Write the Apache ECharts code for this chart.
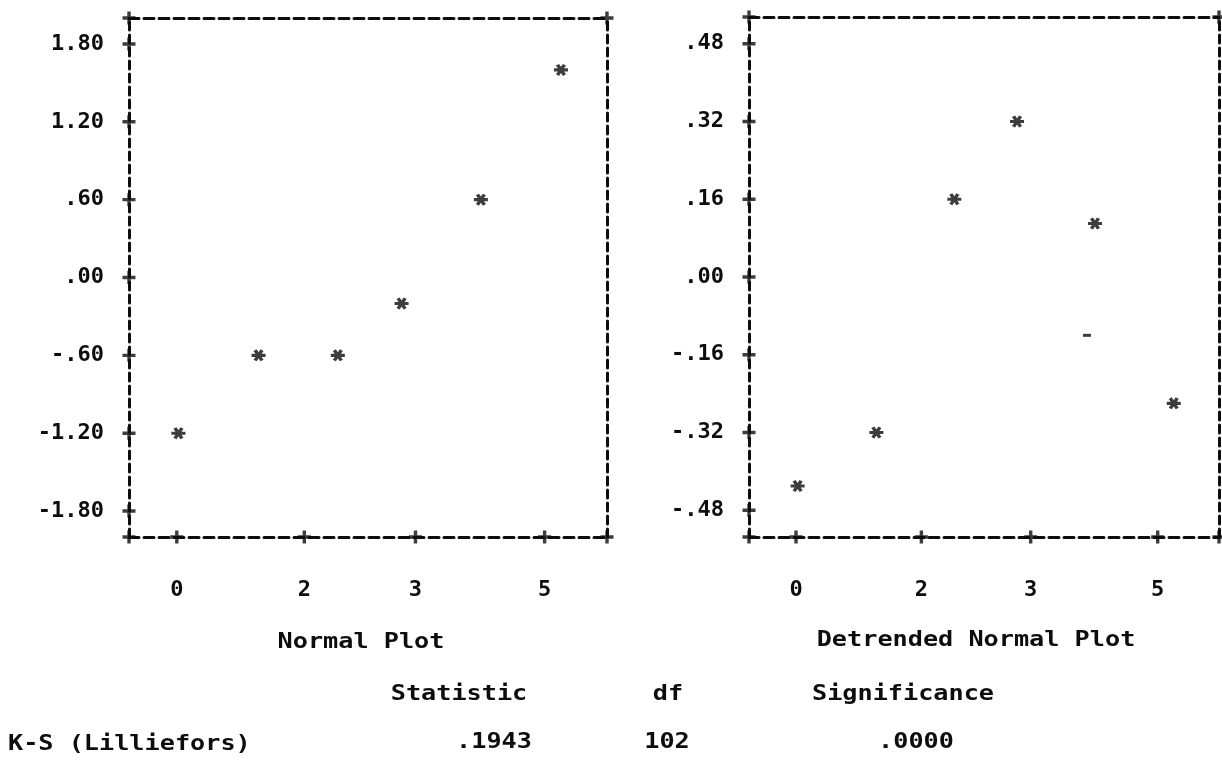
<!DOCTYPE html>
<html>
<head>
<meta charset="utf-8">
<script src="https://cdn.jsdelivr.net/npm/echarts@6/dist/echarts.min.js"></script>
<style>
html,body{margin:0;padding:0;background:#fff;}
#chart{width:1222px;height:761px;}
</style>
</head>
<body>
<div id="chart"></div>
<script>
// ---- data ----
const xTickValues = [0.40, 1.96, 3.32, 4.90];
const xTickLabels = ['0', '2', '3', '5'];
const xRange = [-0.185, 5.663];

const normalYTicks = [1.8, 1.2, 0.6, 0, -0.6, -1.2, -1.8];
const normalYLabels = ['1.80', '1.20', '.60', '.00', '-.60', '-1.20', '-1.80'];
const normalYRange = [-2.0, 2.0];

const detrYTicks = [0.48, 0.32, 0.16, 0, -0.16, -0.32, -0.48];
const detrYLabels = ['.48', '.32', '.16', '.00', '-.16', '-.32', '-.48'];
const detrYRange = [-0.535, 0.535];

const observed = [0.42, 1.40, 2.37, 3.15, 4.12, 5.10];
const expectedNormal = [-1.20, -0.60, -0.60, -0.20, 0.60, 1.60];
const detrendedDev = [-0.43, -0.32, 0.16, 0.32, 0.11, -0.26];
const strayX = [4.02];
const strayY = [-0.12];

const plotTitles = ['Normal Plot', 'Detrended Normal Plot'];
const tableHeader = ['Statistic', 'df', 'Significance'];
const tableRowName = 'K-S (Lilliefors)';
const tableRowValues = ['.1943', '102', '.0000'];

// ---- styling ----
const INK = '#0d0d0d';
const FONT = 'DejaVu Sans Mono';

// six-armed asterisk outline (single non-self-overlapping polygon)
function asteriskPath(R, w) {
  const pts = [];
  for (let k = 0; k < 6; k++) {
    const t = (60 * k) * Math.PI / 180;
    const dx = Math.cos(t), dy = Math.sin(t);
    const px = -dy, py = dx;
    pts.push([R * dx - w / 2 * px, R * dy - w / 2 * py]);
    pts.push([R * dx + w / 2 * px, R * dy + w / 2 * py]);
    const ti = t + Math.PI / 6;
    pts.push([w * Math.cos(ti), w * Math.sin(ti)]);
  }
  return 'path://' + pts.map((p, i) => (i ? 'L' : 'M') +
    (p[0] + R).toFixed(3) + ',' + (p[1] + R).toFixed(3)).join('') + 'Z';
}
const STAR = asteriskPath(6.5, 3.3);
const PLUS = 'path://M4.8,0h3.4v4.8h4.8v3.4h-4.8v4.8h-3.4v-4.8h-4.8v-3.4h4.8z';

function labelFor(values, labels) {
  return function (v) {
    for (let i = 0; i < values.length; i++) {
      if (Math.abs(values[i] - v) < 1e-6) return labels[i];
    }
    return '';
  };
}

function pairs(xs, ys) { return xs.map((x, i) => [x, ys[i]]); }

function crosses(yTicks, yRange) {
  const pts = [];
  const xs = [xRange[0]].concat(xTickValues, [xRange[1]]);
  xs.forEach(x => pts.push([x, yRange[0]]));
  pts.push([xRange[0], yRange[1]]);
  pts.push([xRange[1], yRange[1]]);
  yTicks.forEach(y => pts.push([xRange[0], y]));
  return pts;
}

const hDash = { color: INK, width: 3, type: [10, 5] };
const vDash = { color: INK, width: 3, type: [8, 5] };
const axisFont = { color: INK, fontFamily: FONT, fontWeight: 'bold', fontSize: 22 };

function xAxes(grid) {
  return [
    { gridIndex: grid, type: 'value', position: 'bottom', min: xRange[0], max: xRange[1],
      axisLine: { show: true, onZero: false, lineStyle: hDash },
      axisTick: { show: false }, splitLine: { show: false },
      axisLabel: Object.assign({ show: true, margin: 42, customValues: xTickValues,
        formatter: labelFor(xTickValues, xTickLabels) }, axisFont) },
    { gridIndex: grid, type: 'value', position: 'top', min: xRange[0], max: xRange[1],
      axisLine: { show: true, onZero: false, lineStyle: hDash },
      axisTick: { show: false }, splitLine: { show: false }, axisLabel: { show: false } }
  ];
}
function yAxes(grid, ticks, labels, range) {
  return [
    { gridIndex: grid, type: 'value', position: 'left', min: range[0], max: range[1],
      axisLine: { show: true, onZero: false, lineStyle: vDash },
      axisTick: { show: false }, splitLine: { show: false },
      axisLabel: Object.assign({ show: true, margin: 25, customValues: ticks,
        formatter: labelFor(ticks, labels) }, axisFont) },
    { gridIndex: grid, type: 'value', position: 'right', min: range[0], max: range[1],
      axisLine: { show: true, onZero: false, lineStyle: vDash },
      axisTick: { show: false }, splitLine: { show: false }, axisLabel: { show: false } }
  ];
}

function txt(text, x, y, align) {
  return { type: 'text', x: x, y: y, scaleX: 1.2, silent: true,
    style: { text: text, fill: INK, font: 'bold 21px "' + FONT + '"',
      textAlign: align || 'center', textVerticalAlign: 'middle' } };
}

const chart = echarts.init(document.getElementById('chart'), null, { renderer: 'canvas' });
chart.setOption({
  backgroundColor: '#fff',
  animation: false,
  grid: [
    { left: 129, top: 18, width: 478, height: 519, outerBoundsMode: 'none' },
    { left: 749, top: 17, width: 470, height: 520, outerBoundsMode: 'none' }
  ],
  xAxis: xAxes(0).concat(xAxes(1)),
  yAxis: yAxes(0, normalYTicks, normalYLabels, normalYRange)
    .concat(yAxes(1, detrYTicks, detrYLabels, detrYRange)),
  series: [
    { name: 'Normal Plot', type: 'scatter', xAxisIndex: 0, yAxisIndex: 0,
      data: pairs(observed, expectedNormal), symbol: STAR, symbolSize: [14, 12],
      itemStyle: { color: INK } },
    { name: 'Detrended Normal Plot', type: 'scatter', xAxisIndex: 2, yAxisIndex: 2,
      data: pairs(observed, detrendedDev), symbol: STAR, symbolSize: [14, 12],
      itemStyle: { color: INK } },
    { name: 'stray mark', type: 'scatter', xAxisIndex: 2, yAxisIndex: 2,
      data: pairs(strayX, strayY), symbol: 'rect', symbolSize: [8, 3],
      itemStyle: { color: INK } },
    { name: 'border crosses left', type: 'scatter', xAxisIndex: 0, yAxisIndex: 0, clip: false,
      data: crosses(normalYTicks, normalYRange), symbol: PLUS, symbolSize: 13,
      itemStyle: { color: INK }, silent: true },
    { name: 'border crosses right', type: 'scatter', xAxisIndex: 2, yAxisIndex: 2, clip: false,
      data: crosses(detrYTicks, detrYRange), symbol: PLUS, symbolSize: 13,
      itemStyle: { color: INK }, silent: true }
  ],
  graphic: [
    txt(plotTitles[0], 361, 643),
    txt(plotTitles[1], 976, 641),
    txt(tableHeader[0], 459, 695),
    txt(tableHeader[1], 668, 695),
    txt(tableHeader[2], 903, 695),
    txt(tableRowName, 8, 745, 'left'),
    txt(tableRowValues[0], 494, 743),
    txt(tableRowValues[1], 667, 743),
    txt(tableRowValues[2], 916, 743)
  ]
});
</script>
</body>
</html>
